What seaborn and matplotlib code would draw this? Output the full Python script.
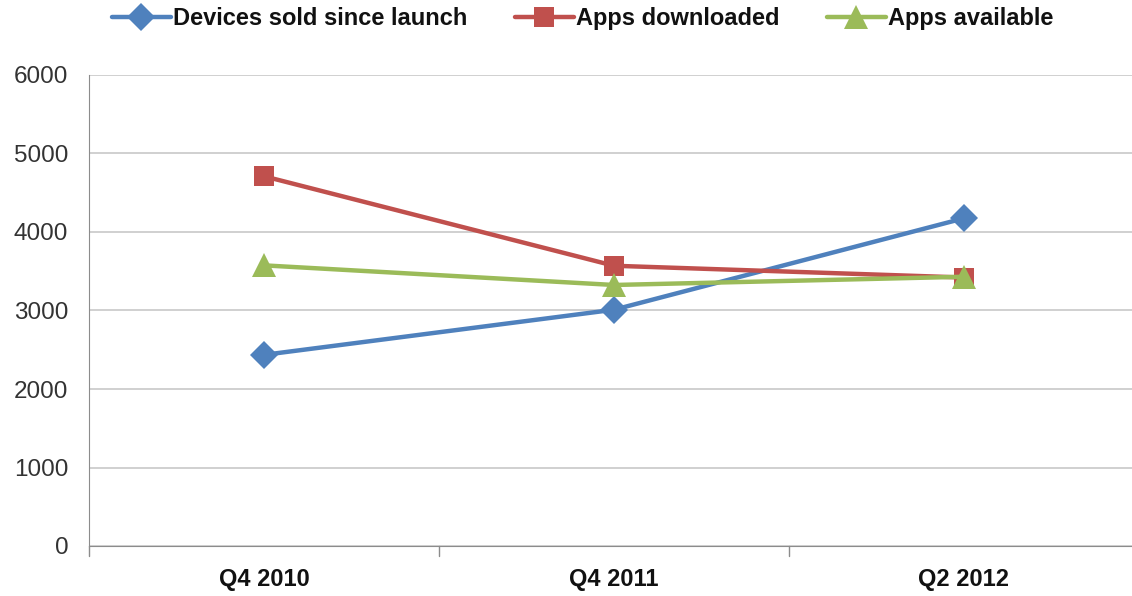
import pandas as pd
import matplotlib.pyplot as plt
import seaborn as sns

# Data
quarters = ["Q4 2010", "Q4 2011", "Q2 2012"]
devices_sold = [2435, 3010, 4175]
apps_downloaded = [4710, 3570, 3420]
apps_available = [3575, 3325, 3430]

series_names = ["Devices sold since launch", "Apps downloaded", "Apps available"]

df = pd.DataFrame({
    "quarter": quarters * 3,
    "value": devices_sold + apps_downloaded + apps_available,
    "series": [s for s in series_names for _ in quarters],
})

sns.set_style("white")
plt.rcParams["font.family"] = ["Liberation Sans", "DejaVu Sans"]

palette = {"Devices sold since launch": "#4F81BD",
           "Apps downloaded": "#C0504D",
           "Apps available": "#9BBB59"}
markers = {"Devices sold since launch": "D",
           "Apps downloaded": "s",
           "Apps available": "^"}

fig = plt.figure(figsize=(11.32, 5.96), dpi=100)
ax = fig.add_axes([89 / 1132, 50 / 596, 1050 / 1132, 471 / 596])

sns.lineplot(data=df, x="quarter", y="value", hue="series", style="series",
             palette=palette, markers=markers, dashes=False, sort=False,
             linewidth=3.2, markersize=14, markeredgewidth=0, ax=ax)

# triangles look a bit bigger in the original
for ln in ax.get_lines():
    if ln.get_marker() == "^":
        ln.set_markersize(17)

ax.set_xlim(-0.5, 2.5)
ax.set_ylim(0, 6000)
ax.set_yticks(range(0, 6001, 1000))
ax.yaxis.grid(True, color="#C8C8C8", linewidth=1.2)
ax.set_axisbelow(True)
ax.set_xlabel("")
ax.set_ylabel("")

for side in ["top", "right"]:
    ax.spines[side].set_visible(False)
ax.spines["left"].set_color("#8C8C8C")
ax.spines["bottom"].set_color("#8C8C8C")

ax.tick_params(axis="y", length=9, color="#8C8C8C", labelsize=17.5, pad=6,
               labelcolor="#333333")
ax.set_xticks([0, 1, 2])
ax.set_xticklabels(quarters, fontsize=17, fontweight="bold")
ax.tick_params(axis="x", length=0, pad=16, labelcolor="#111111")
# category separators on the x axis
for xb in [-0.5, 0.5, 1.5]:
    ax.plot([xb, xb], [0, -0.022], transform=ax.get_xaxis_transform(),
            color="#8C8C8C", linewidth=1, clip_on=False)

leg = ax.legend(loc="center", bbox_to_anchor=(0.47, 1.119), ncol=3,
                frameon=False, handlelength=2.5, handletextpad=0.1,
                columnspacing=2.0, prop={"size": 17, "weight": "bold"})
for t in leg.get_texts():
    t.set_color("#111111")

fig.savefig("out.png", dpi=100)
